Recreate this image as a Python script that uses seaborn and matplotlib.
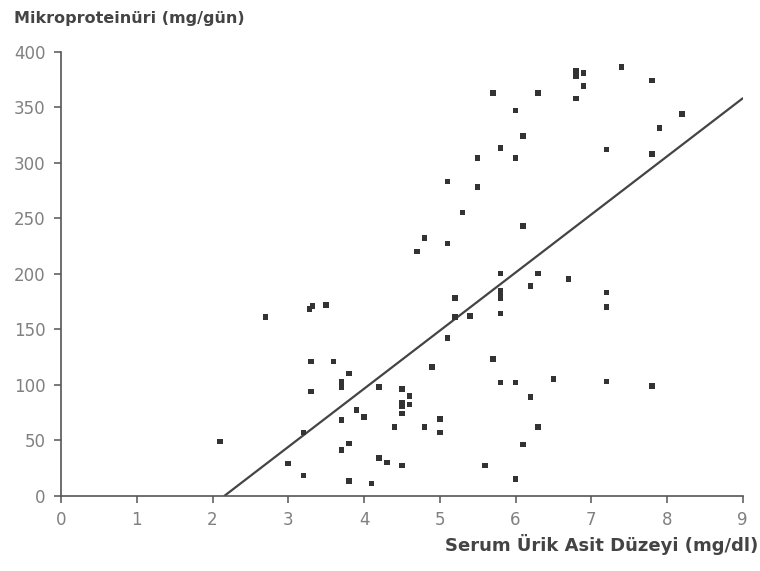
import matplotlib
matplotlib.use("Agg")
import matplotlib.pyplot as plt
import seaborn as sns
import pandas as pd

# Serum uric acid (mg/dl) and microproteinuria (mg/day)
uric_acid = [2.1, 2.7, 3.28, 3.32, 3.5, 3.3, 3.6, 3.8, 3.7, 3.7, 3.3, 4.2, 3.9, 4.0,
             3.7, 4.4, 3.2, 3.8, 3.7, 4.2, 4.3, 3.0, 3.2, 3.8, 4.1,
             5.8, 6.3, 6.7, 6.2, 5.2, 5.8, 5.8, 5.8, 5.8, 5.2, 5.4, 5.1, 5.7, 4.9,
             5.8, 6.0, 6.5, 6.2, 4.5, 4.6, 4.5, 4.5, 4.6, 4.5, 4.8, 5.0, 5.0, 6.3,
             6.1, 4.5, 5.6, 6.0,
             7.4, 6.8, 6.9, 6.8, 7.8, 6.9, 5.7, 6.3, 6.8, 6.0, 8.2, 7.9, 6.1, 5.8,
             7.2, 7.8, 5.5, 6.0, 5.1, 5.5, 5.3, 6.1, 4.8, 5.1, 4.7,
             7.2, 7.2, 7.2, 7.8]
microproteinuria = [49, 161, 168, 171, 172, 121, 121, 110, 103, 98, 94, 98, 77, 71,
                    68, 62, 57, 47, 41, 34, 30, 29, 18, 13, 11,
                    200, 200, 195, 189, 178, 185, 181, 178, 164, 161, 162, 142, 123, 116,
                    102, 102, 105, 89, 96, 90, 84, 81, 82, 74, 62, 69, 57, 62,
                    46, 27, 27, 15,
                    386, 383, 381, 378, 374, 369, 363, 363, 358, 347, 344, 331, 324, 313,
                    312, 308, 304, 304, 283, 278, 255, 243, 232, 227, 220,
                    183, 170, 103, 99]

# Regression line end points
line_x = [2.16, 9.0]
line_y = [0, 358]

x_ticks = [0, 1, 2, 3, 4, 5, 6, 7, 8, 9]
y_ticks = [0, 50, 100, 150, 200, 250, 300, 350, 400]

df = pd.DataFrame({"x": uric_acid, "y": microproteinuria})
df_line = pd.DataFrame({"x": line_x, "y": line_y})

sns.set_theme(style="white")
plt.rcParams["font.family"] = ["DejaVu Sans"]

fig = plt.figure(figsize=(7.6, 5.71), dpi=100)
ax = fig.add_axes([0.0803, 0.1319, 0.897, 0.7776])

sns.lineplot(data=df_line, x="x", y="y", ax=ax, color="#444444", linewidth=1.6)
sns.scatterplot(data=df, x="x", y="y", ax=ax, marker="s", s=16, color="#333333",
                edgecolor="none", zorder=3)

ax.set_xlim(0, 9)
ax.set_ylim(0, 400)
ax.set_xticks(x_ticks)
ax.set_yticks(y_ticks)
ax.set_xlabel("")
ax.set_ylabel("")

for side in ["top", "right"]:
    ax.spines[side].set_visible(False)
for side in ["left", "bottom"]:
    ax.spines[side].set_color("#555555")
    ax.spines[side].set_linewidth(1.2)

ax.tick_params(axis="both", which="major", direction="out", length=5, width=1.1,
               color="#555555", labelcolor="#808080", labelsize=12, pad=6,
               left=True, bottom=True)

fig.text(0.018, 0.968, "Mikroproteinüri (mg/gün)", fontsize=11.5, fontweight="bold",
         color="#444444", ha="left", va="center")
fig.text(0.998, 0.047, "Serum Ürik Asit Düzeyi (mg/dl)", fontsize=13,
         fontweight="bold", color="#444444", ha="right", va="center")

fig.savefig("out.png", dpi=100, facecolor="white")
